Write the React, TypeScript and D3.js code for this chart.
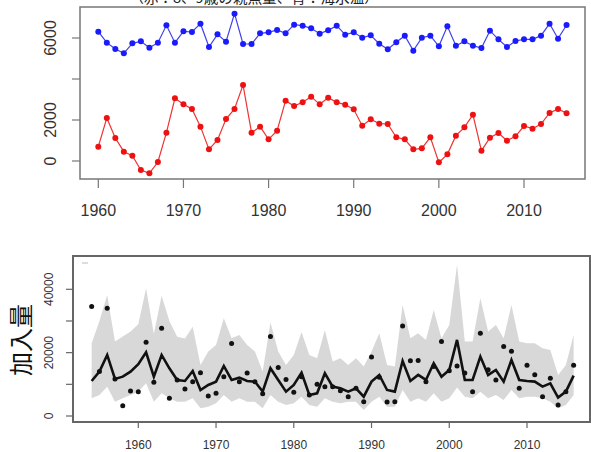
import React from "react";
import * as d3 from "d3";

// ---------- top panel data (1960-2015) ----------
const topYears: number[] = d3.range(1960, 2016);
const tempSeries: number[] = [
  6309, 5772, 5463, 5252, 5740, 5837, 5528, 5772, 6618, 5772,
  6325, 6293, 6699, 5561, 6179, 5821, 7187, 5707, 5707, 6228,
  6276, 6390, 6228, 6650, 6602, 6472, 6211, 6374, 6602, 6163,
  6276, 6016, 6130, 5724, 5447, 5789, 6114, 5382, 6016, 6114,
  5593, 6569, 5626, 5837, 5626, 5512, 6358, 5935, 5561, 5854,
  5935, 5935, 6114, 6699, 5967, 6634,
];
const spawnerSeries: number[] = [
  699, 2098, 1122, 455, 260, -439, -602, -49, 1382, 3057,
  2764, 2537, 1675, 569, 1024, 2049, 2537, 3707, 1382, 1675,
  1057, 1480, 2943, 2683, 2862, 3138, 2764, 3089, 2862, 2748,
  2520, 1724, 2033, 1821, 1805, 1154, 1057, 569, 618, 1154,
  -65, 325, 1236, 1642, 2260, 504, 1138, 1366, 992, 1203,
  1707, 1577, 1805, 2342, 2537, 2325,
];
const topXTicks: number[] = [1960, 1970, 1980, 1990, 2000, 2010];
const topYTicks: number[] = [0, 2000, 4000, 6000];
const topYLabels: string[] = ["0", "2000", "", "6000"];
const titleText = "（赤：8、9歳の親魚量、青：海水温）";

// ---------- bottom panel data (1954-2016) ----------
const botYears: number[] = d3.range(1954, 2017);
const medianSeries: number[] = [
  11060, 14010, 19276, 11692, 12430, 14010, 16327, 20119, 12430, 19276,
  15063, 11376, 11060, 14220, 8216, 9796, 10850, 15800, 11376, 12113,
  11060, 10850, 7690, 15063, 11376, 7690, 9796, 13693, 6636, 7163,
  13483, 9270, 8743, 7690, 8743, 6110, 10850, 12956, 8216, 7690,
  17380, 11060, 12956, 11376, 16643, 12430, 14536, 24016, 11376, 11376,
  18750, 12956, 14536, 10850, 17696, 11376, 11060, 10850, 9270, 10323,
  5793, 7690, 12745,
];
const upperSeries: number[] = [
  22963, 30000, 38236, 23490, 25070, 26650, 29000, 40340, 26000, 38000,
  30000, 25000, 24500, 28200, 16116, 20330, 22436, 30863, 24543, 25596,
  22436, 20330, 14010, 29500, 20330, 16116, 19276, 26500, 19276, 18223,
  27176, 17170, 18223, 16116, 18223, 15590, 20330, 26123, 16116, 15590,
  35076, 24543, 26123, 24016, 33496, 24543, 28756, 47716, 23490, 23490,
  37180, 26650, 28756, 24543, 35076, 23490, 22963, 22963, 21383, 20856,
  12956, 16116, 25596,
];
const lowerSeries: number[] = [
  5583, 6636, 9270, 4530, 5583, 6636, 7690, 10323, 4530, 7163,
  5583, 4530, 4530, 5583, 2423, 2950, 4000, 6636, 4530, 5583,
  4530, 4530, 2423, 6636, 4530, 3476, 4000, 6110, 3476, 2950,
  5583, 4530, 4003, 4530, 4530, 1896, 4530, 6110, 2950, 2950,
  8216, 4530, 5583, 4530, 7163, 4530, 5583, 9000, 6110, 5583,
  7690, 5583, 6636, 5056, 8216, 5583, 6110, 6110, 5583, 4530,
  2423, 3476, 6636,
];
const obsSeries: number[] = [
  34550, 14010, 34023, 11692, 3265, 7900, 7690, 23280, 10640, 27703,
  5583, 11376, 8532, 10850, 13693, 6320, 7163, 12430, 22900, 10850,
  13600, 10850, 7000, 25070, 15273, 11500, 7500, 12430, 6636, 10007,
  9270, 9270, 7950, 6110, 8743, 4500, 18650, 12220, 4400, 4500,
  28440, 17430, 17500, 10850, 15590, 23490, 14325, 15800, 13600, 7690,
  26123, 14640, 11376, 21910, 20440, 8743, 16000, 13060, 6110, 11903,
  3476, 7690, 16000,
];
const botXTicks: number[] = [1960, 1970, 1980, 1990, 2000, 2010];
const botYTicks: number[] = [0, 10000, 20000, 30000, 40000];
const botYLabels: string[] = ["0", "", "20000", "", "40000"];
const botYTitle = "加入量";

export default function App() {
  // top panel geometry
  const tL = 80, tR = 585, tT = 7, tB = 179;
  const xT = d3.scaleLinear().domain([1960, 2010]).range([98.3, 524]);
  const yT = d3.scaleLinear().domain([0, 6000]).range([161, 38]);

  // bottom panel geometry
  const bL = 73, bR = 590, bT = 256, bB = 422;
  const xB = d3.scaleLinear().domain([1960, 2010]).range([138.3, 527]);
  const yB = d3.scaleLinear().domain([0, 40000]).range([416, 289.3]);

  const lineT = d3
    .line<number>()
    .x((_, i) => xT(topYears[i]))
    .y((d) => yT(d));

  const area = d3
    .area<number>()
    .x((_, i) => xB(botYears[i]))
    .y0((_, i) => yB(lowerSeries[i]))
    .y1((d) => yB(d));
  const lineB = d3
    .line<number>()
    .x((_, i) => xB(botYears[i]))
    .y((d) => yB(d));

  const sans = "'Liberation Sans', Arial, sans-serif";
  const cjk = "'Noto Sans CJK JP', sans-serif";

  return (
    <svg
      width={591}
      height={452}
      style={{ position: "absolute", left: 0, top: 0, background: "#fff" }}
    >
      {/* title (partially cut off) */}
      <text
        x={254}
        y={3}
        textAnchor="middle"
        fontFamily={cjk}
        fontSize={14.6}
        fill="#222"
      >
        {titleText}
      </text>

      {/* ---------- top panel ---------- */}
      <path d={lineT(tempSeries) || ""} fill="none" stroke="#4040ee" strokeWidth={1.2} />
      {tempSeries.map((v, i) => (
        <circle key={"b" + i} cx={xT(topYears[i])} cy={yT(v)} r={3} fill="#1a1aff" />
      ))}
      <path d={lineT(spawnerSeries) || ""} fill="none" stroke="#ee3333" strokeWidth={1.2} />
      {spawnerSeries.map((v, i) => (
        <circle key={"r" + i} cx={xT(topYears[i])} cy={yT(v)} r={3} fill="#ee1111" />
      ))}
      <rect x={tL} y={tT} width={tR - tL} height={tB - tT} fill="none" stroke="#777" strokeWidth={1.5} />
      {topXTicks.map((t) => (
        <g key={"tx" + t}>
          <line x1={xT(t)} x2={xT(t)} y1={tB} y2={tB + 9} stroke="#777" strokeWidth={1.2} />
          <text x={xT(t)} y={216} textAnchor="middle" fontFamily={sans} fontSize={16} fill="#333">
            {t}
          </text>
        </g>
      ))}
      {topYTicks.map((t, i) => (
        <g key={"ty" + t}>
          <line x1={tL - 8} x2={tL} y1={yT(t)} y2={yT(t)} stroke="#777" strokeWidth={1.2} />
          {topYLabels[i] && (
            <text
              transform={`translate(56,${yT(t)}) rotate(-90)`}
              textAnchor="middle"
              fontFamily={sans}
              fontSize={16}
              fill="#333"
            >
              {topYLabels[i]}
            </text>
          )}
        </g>
      ))}

      {/* ---------- bottom panel ---------- */}
      <path d={area(upperSeries) || ""} fill="#d8d8d8" stroke="none" />
      <path d={lineB(medianSeries) || ""} fill="none" stroke="#111" strokeWidth={2.6} strokeLinejoin="miter" />
      {obsSeries.map((v, i) => (
        <circle key={"o" + i} cx={xB(botYears[i])} cy={yB(v)} r={2.5} fill="#111" />
      ))}
      <rect x={bL} y={bT} width={bR - bL} height={bB - bT} fill="none" stroke="#666" strokeWidth={2} />
      <line x1={bL + 9} x2={bL + 15} y1={263} y2={263} stroke="#bbb" strokeWidth={1} />
      {botXTicks.map((t) => (
        <g key={"bx" + t}>
          <line x1={xB(t)} x2={xB(t)} y1={bB} y2={bB + 6} stroke="#666" strokeWidth={1.2} />
          <text x={xB(t)} y={449} textAnchor="middle" fontFamily={sans} fontSize={12} fill="#333">
            {t}
          </text>
        </g>
      ))}
      {botYTicks.map((t, i) => (
        <g key={"by" + t}>
          <line x1={bL - 7} x2={bL} y1={yB(t)} y2={yB(t)} stroke="#666" strokeWidth={1.2} />
          {botYLabels[i] && (
            <text
              transform={`translate(53,${yB(t)}) rotate(-90)`}
              textAnchor="middle"
              fontFamily={sans}
              fontSize={12}
              fill="#333"
            >
              {botYLabels[i]}
            </text>
          )}
        </g>
      ))}
      <text
        transform={`translate(30,340) rotate(-90)`}
        textAnchor="middle"
        fontFamily={cjk}
        fontSize={24}
        fill="#111"
      >
        {botYTitle}
      </text>
    </svg>
  );
}
